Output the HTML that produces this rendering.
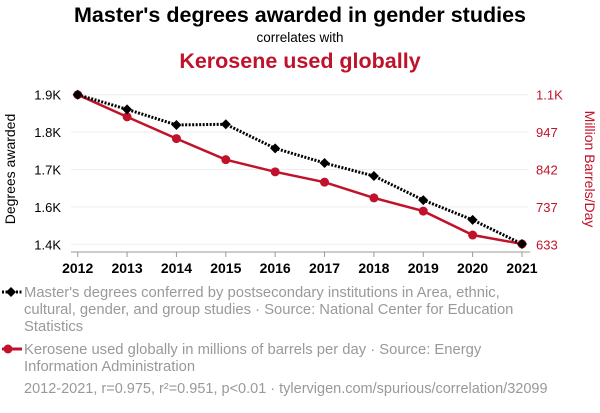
<!DOCTYPE html>
<html><head><meta charset="utf-8"><style>
body{margin:0;background:#fff;font-family:"Liberation Sans",sans-serif;}
svg text{font-family:"Liberation Sans",sans-serif;}
</style></head><body>
<svg id="c" width="600" height="408">
<text x="300" y="22" text-anchor="middle" font-size="21.5" font-weight="bold" fill="#000">Master's degrees awarded in gender studies</text>
<text x="300" y="42" text-anchor="middle" font-size="13.5" fill="#000">correlates with</text>
<text x="300" y="68" text-anchor="middle" font-size="21.5" font-weight="bold" fill="#c0132b">Kerosene used globally</text>
<text transform="translate(15,169) rotate(-90)" text-anchor="middle" font-size="14" fill="#000">Degrees awarded</text>
<text transform="translate(585,169) rotate(90)" text-anchor="middle" font-size="14" fill="#c0132b">Million Barrels/Day</text>
<g id="grid"></g><g id="axes"></g><g id="series"></g>
<g font-size="14.8" fill="#999">
<line x1="2" y1="292" x2="22" y2="292" stroke="#000" stroke-width="3" stroke-dasharray="2,1.5"/>
<path d="M6 292 L11 287 L16 292 L11 297Z" fill="#000"/>
<text x="24" y="297">Master's degrees conferred by postsecondary institutions in Area, ethnic,</text>
<text x="24" y="314">cultural, gender, and group studies · Source: National Center for Education</text>
<text x="24" y="331">Statistics</text>
<line x1="2" y1="349" x2="22" y2="349" stroke="#c0132b" stroke-width="3"/>
<circle cx="8" cy="349" r="4.5" fill="#c0132b"/>
<text x="24" y="354">Kerosene used globally in millions of barrels per day · Source: Energy</text>
<text x="24" y="371">Information Administration</text>
<text x="24" y="393" font-size="14.5">2012-2021, r=0.975, r²=0.951, p&lt;0.01 · tylervigen.com/spurious/correlation/32099</text>
</g>
</svg>
<script>
const years=[2012,2013,2014,2015,2016,2017,2018,2019,2020,2021];
const degrees=[1900,1855,1807,1809,1735,1690,1650,1576,1515,1441];
const kerosene=[1052,990,929,870,836,807,763,726,659,634];
const leftTicks=[1900,1785,1670,1555,1440];
const leftLabels=["1.9K","1.8K","1.7K","1.6K","1.4K"];
const rightTicks=[1052,947,842,737,633];
const rightLabels=["1.1K","947","842","737","633"];
const NS="http://www.w3.org/2000/svg";
const x0=77.7,x1=522,yT=94.7,yB=244.3;
const xs=y=>x0+(y-2012)*(x1-x0)/9;
const yl=v=>yB-(v-1440)*(yB-yT)/(1900-1440);
const yr=v=>yB-(v-633)*(yB-yT)/(1052-633);
function mk(tag,a,p){const e=document.createElementNS(NS,tag);for(const k in a)e.setAttribute(k,a[k]);p.appendChild(e);return e;}
const grid=document.getElementById('grid'),axes=document.getElementById('axes'),ser=document.getElementById('series');
leftTicks.forEach((t,i)=>{
 const g=mk('line',{x1:71,x2:528,y1:yl(t),y2:yl(t),stroke:'#eee','stroke-width':1},grid);
 
 
 const tx=mk('text',{x:61,y:yl(t)+5,'text-anchor':'end','font-size':13,fill:'#000'},axes);
 tx.textContent=leftLabels[i];
 
 
});
rightTicks.forEach((t,i)=>{
 const tx=mk('text',{x:536,y:yr(t)+5,'font-size':13,fill:'#c0132b'},axes);
 tx.textContent=rightLabels[i];
 
 
});
mk('line',{x1:71,x2:530,y1:252,y2:252,stroke:'#999'},axes);
years.forEach(y=>{
 mk('line',{x1:xs(y),x2:xs(y),y1:252,y2:257,stroke:'#999'},axes);
 const tx=mk('text',{x:xs(y),y:273,'text-anchor':'middle','font-size':14,'font-weight':'bold',fill:'#000'},axes);
 tx.textContent=y;
 
 
});
const rl=mk('polyline',{points:years.map((y,i)=>xs(y)+','+yr(kerosene[i])).join(' '),fill:'none',stroke:'#c0132b','stroke-width':2.5},ser);


const bl=mk('polyline',{points:years.map((y,i)=>xs(y)+','+yl(degrees[i])).join(' '),fill:'none',stroke:'#000','stroke-width':3,'stroke-dasharray':'2,1.5'},ser);


years.forEach((y,i)=>{
 const c=mk('circle',{cx:xs(y),cy:yr(kerosene[i]),r:4.5,fill:'#c0132b'},ser);
 
 
});
years.forEach((y,i)=>{
 const X=xs(y),Y=yl(degrees[i]);
 const d=mk('path',{d:`M${X-5} ${Y} L${X} ${Y-5} L${X+5} ${Y} L${X} ${Y+5}Z`,fill:'#000'},ser);
 
 
});
</script>
</body></html>
